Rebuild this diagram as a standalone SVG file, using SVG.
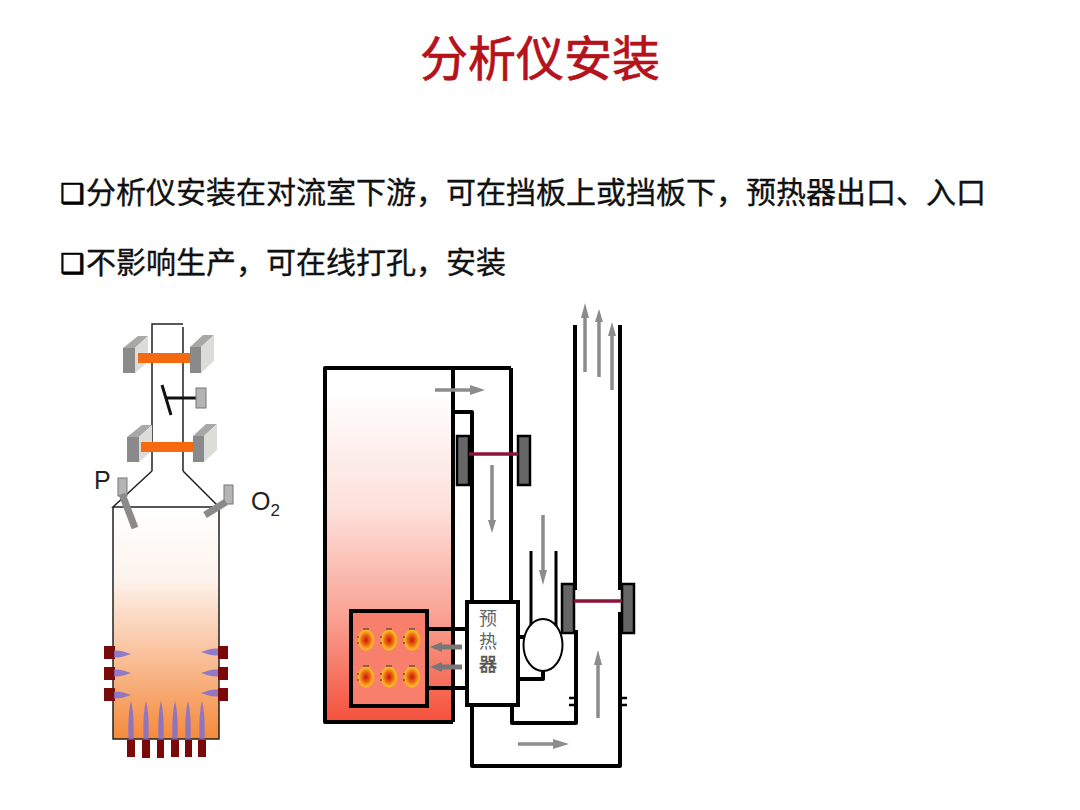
<svg xmlns="http://www.w3.org/2000/svg" width="1080" height="810" viewBox="0 0 1080 810">
<style>
.cjk{font-family:"Liberation Sans","Noto Sans CJK SC",sans-serif}
.t{font-size:30px;fill:#111;stroke:#111;stroke-width:.35}
.bu{font-family:"DejaVu Sans",sans-serif;font-size:27px;fill:#000;stroke:#000;stroke-width:.9}
.lat{font-family:"Liberation Sans",sans-serif;fill:#222}
.thin{fill:none;stroke:#222;stroke-width:1.5}
.bk{fill:none;stroke:#000;stroke-width:4;stroke-linejoin:round}
.or{fill:#f56a10}
.g1{fill:#8a8a8a}.g2{fill:#dcdcd8}.g3{fill:#a8a8a8}
.gr{fill:#b4b4b4;stroke:#777;stroke-width:1}
.mr{fill:#7a0a0a}
.fl{fill:#7f6fd0;opacity:.85}
.pl{fill:#666;stroke:#000;stroke-width:2.5}
.rod{stroke:#8a1538;stroke-width:3.5}
.ar{stroke:#8c8c8c;stroke-width:3.5;fill:none}
.ah{fill:#8c8c8c}
.ad{stroke:#777;stroke-width:5;fill:none}
.adh{fill:#777}
</style>
<defs>
<linearGradient id="f1" x1="0" y1="0" x2="0" y2="1"><stop offset="0" stop-color="#fff"/><stop offset=".3" stop-color="#fef4ee"/><stop offset=".65" stop-color="#f9bf98"/><stop offset="1" stop-color="#f58a3c"/></linearGradient>
<linearGradient id="f2" x1="0" y1="0" x2="0" y2="1"><stop offset="0" stop-color="#fff"/><stop offset=".06" stop-color="#fff"/><stop offset=".4" stop-color="#fde0da"/><stop offset=".7" stop-color="#f9a294"/><stop offset="1" stop-color="#f4503a"/></linearGradient>
<radialGradient id="b"><stop offset="0" stop-color="#c8150a"/><stop offset=".5" stop-color="#ee6a12"/><stop offset=".85" stop-color="#fbb82c"/><stop offset="1" stop-color="#f6a020"/></radialGradient>
<g id="burner"><ellipse rx="8.500" ry="11" fill="url(#b)"/><path d="M-8-4v2M-8 2v2M-3-11h6" stroke="#333" stroke-width="1" fill="none"/></g>
<g id="fh"><path d="M0-3.500 C6-4 11-2 17 0 C11 2 6 4 0 3.500Z" class="fl"/></g>
<g id="fv"><path d="M-2.500 0 C-3-15-2.500-28 0-38 C2.500-28 3-15 2.500 0Z" class="fl"/></g>
<g id="damperL"><path d="M0 13L15 1H25L12 13Z" class="g3"/><rect x="0" y="13" width="12" height="25" class="g1"/><path d="M12 13L25 1V27L12 38Z" class="g2"/></g>
<g id="damperR"><path d="M0 12L13 0H24L11 12Z" class="g3"/><rect x="0" y="12" width="11" height="26" class="g1"/><path d="M11 12L24 0V26L11 38Z" class="g2"/></g>
</defs>
<rect width="1080" height="810" fill="#fff"/>
<text id="title" x="540" y="76" text-anchor="middle" font-size="48" fill="#b5121b" stroke="#b5121b" stroke-width=".7" class="cjk">分析仪安装</text>
<g id="bullet1"><text x="60" y="203" class="bu">❑</text><text x="86" y="203" class="cjk t">分析仪安装在对流室下游，可在挡板上或挡板下，预热器出口、入口</text></g>
<g id="bullet2"><text x="60" y="273" class="bu">❑</text><text x="86" y="273" class="cjk t">不影响生产，可在线打孔，安装</text></g>

<g id="furnace-left">
<rect x="113" y="507" width="106" height="232" fill="url(#f1)"/>
<path class="thin" d="M152 471V324H183M183 327V471M152 471L113 507H219L183 471M113 507V739H219V507"/>
<use href="#damperL" x="123" y="335"/>
<use href="#damperR" x="190" y="335"/>
<rect x="138" y="353" width="52" height="10" class="or"/>
<use href="#damperL" x="127" y="424"/>
<use href="#damperR" x="193" y="424"/>
<rect x="141" y="442" width="53" height="10" class="or"/>
<path d="M162 385L171 415M166 398H196" stroke="#111" stroke-width="3" fill="none"/>
<rect x="196" y="388" width="10" height="20" class="gr"/>
<rect x="118" y="478" width="9" height="18" class="gr"/>
<path d="M122 494L135 528" stroke="#8a8a8a" stroke-width="7"/>
<rect x="224" y="485" width="9" height="19" class="gr"/>
<path d="M205 515L226 502" stroke="#8a8a8a" stroke-width="7"/>
<text x="94" y="489" font-size="25" class="lat">P</text>
<text x="251" y="510" font-size="25" class="lat">O<tspan font-size="17" dy="6">2</tspan></text>
<g id="burners-left">
<rect x="104" y="646" width="11" height="13" class="mr"/><rect x="104" y="667" width="11" height="13" class="mr"/><rect x="104" y="688" width="11" height="13" class="mr"/>
<rect x="218" y="646" width="10" height="13" class="mr"/><rect x="218" y="667" width="10" height="13" class="mr"/><rect x="218" y="688" width="10" height="13" class="mr"/>
<use href="#fh" x="114" y="654"/><use href="#fh" x="114" y="673"/><use href="#fh" x="114" y="695"/>
<use href="#fh" transform="translate(218 652) scale(-1 1)"/><use href="#fh" transform="translate(218 673) scale(-1 1)"/><use href="#fh" transform="translate(218 693) scale(-1 1)"/>
<rect x="127" y="740" width="8" height="17" class="mr"/><rect x="142" y="740" width="8" height="18" class="mr"/><rect x="157" y="740" width="7" height="18" class="mr"/><rect x="171" y="740" width="8" height="17" class="mr"/><rect x="185" y="740" width="7" height="17" class="mr"/><rect x="198" y="740" width="8" height="17" class="mr"/>
<use href="#fv" x="131" y="739"/><use href="#fv" x="146" y="739"/><use href="#fv" x="161" y="739"/><use href="#fv" x="175" y="739"/><use href="#fv" x="188" y="739"/><use href="#fv" x="202" y="739"/>
</g>
</g>

<g id="furnace-right">
<rect x="325" y="368" width="128" height="354" fill="url(#f2)"/>
<path class="bk" d="M511 368H325V722H453M453 368V722"/>
</g>
<g id="radiant-box">
<rect x="351" y="611" width="76" height="95" fill="#f77f6c" stroke="#000" stroke-width="4"/>
<use href="#burner" x="366" y="640"/><use href="#burner" x="389" y="640"/><use href="#burner" x="412" y="640"/>
<use href="#burner" x="366" y="677"/><use href="#burner" x="389" y="677"/><use href="#burner" x="412" y="677"/>
</g>
<g id="connectors">
<path class="bk" d="M453 412H472V602M511 368V602M427 629H466M427 688H466"/>
<path class="bk" d="M472 706V766H620V612M512 706V723H576V630M575 325V590M620 325V590"/>
<path fill="none" stroke="#000" stroke-width="3" d="M531 551V625M556 551V628"/>
<path class="bk" stroke-width="3.500" d="M519 637H525M519 679H543V670"/>
<path d="M569 698H577M569 705H577M620 698H627M620 705H627" stroke="#000" stroke-width="2.500"/>
<path class="ar" d="M435 390H472"/><path class="ah" d="M470 385L485 390L470 395Z"/>
<path class="ar" d="M492 465V522"/><path class="ah" d="M488 520H496L492 533Z"/>
<path class="ar" d="M543 515V572"/><path class="ah" d="M539 570H547L543 585Z"/>
<path class="ar" d="M585 372V318"/><path class="ah" d="M581 318H589L585 303Z"/>
<path class="ar" d="M599 377V322"/><path class="ah" d="M595 322H603L599 309Z"/>
<path class="ar" d="M612 390V335"/><path class="ah" d="M608 336H616L612 322Z"/>
<path class="ar" d="M598 718V664"/><path class="ah" d="M594 665H602L598 650Z"/>
<path class="ar" d="M518 744H556"/><path class="ah" d="M553 739L569 744L553 749Z"/>
<path class="ad" d="M462 647H441"/><path class="adh" d="M442 642L430 647L442 652Z"/>
<path class="ad" d="M462 667H441"/><path class="adh" d="M442 662L430 667L442 672Z"/>
</g>
<g id="dampers-right">
<rect x="457" y="436" width="12" height="49" class="pl"/>
<rect x="518" y="436" width="12" height="49" class="pl"/>
<path class="rod" d="M469 454H518"/>
<rect x="562" y="584" width="12" height="49" class="pl"/>
<rect x="622" y="584" width="12" height="49" class="pl"/>
<path class="rod" d="M574 601H622"/>
</g>
<g id="preheater">
<rect x="467" y="602" width="51" height="103" fill="#fff" stroke="#000" stroke-width="4"/>
<text x="488" y="625" text-anchor="middle" font-size="18" fill="#666" class="cjk">预</text>
<text x="488" y="648" text-anchor="middle" font-size="18" fill="#666" class="cjk">热</text>
<text x="488" y="671" text-anchor="middle" font-size="18" fill="#555" stroke="#555" stroke-width=".5" class="cjk">器</text>
</g>
<g id="fan"><ellipse cx="543" cy="645" rx="19.500" ry="26" fill="#fff" stroke="#000" stroke-width="2"/></g>
</svg>
